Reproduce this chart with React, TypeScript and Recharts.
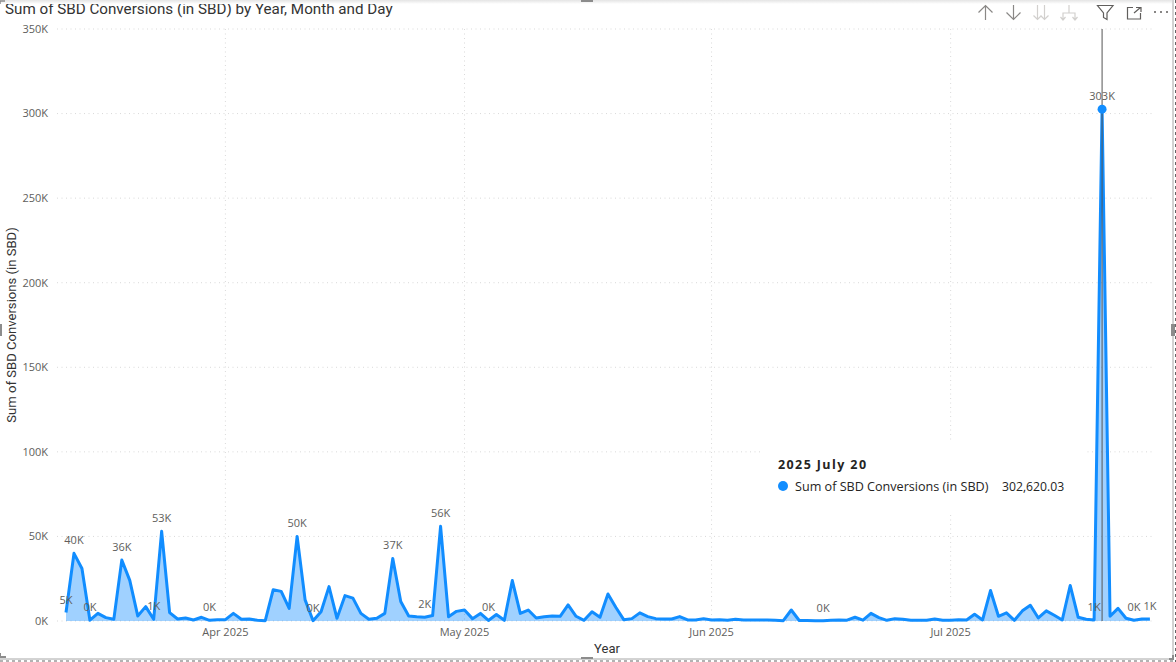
import React from "react";
import { ComposedChart, Area, XAxis, YAxis, CartesianGrid, ReferenceLine, ReferenceDot, LabelList } from "recharts";

const TITLE = "Sum of SBD Conversions (in SBD) by Year, Month and Day";
const Y_TITLE = "Sum of SBD Conversions (in SBD)";
const X_TITLE = "Year";

// SBD per day, in thousands, starting 2025 March 12
const marchValues = [5, 40, 31, 0.5, 4.5, 2, 1, 36, 24, 3, 8.5, 1, 53, 5, 1.2, 1.8, 0.6, 2.2, 0.4, 0.8];
const aprilValues = [0.8, 4.5, 1, 1.2, 0.4, 0.2, 18.5, 17.5, 7.5, 50, 12.5, 0.2, 5.5, 20.3, 1.6, 15, 13.5, 4.5, 1, 1.6, 4.5, 37, 11.5, 3, 2.5, 2.2, 3.2, 56, 2.5, 5.7];
const mayValues = [6.5, 1.4, 4.5, 0.3, 3.8, 0.4, 23.9, 4.5, 6.5, 1.8, 2.5, 3, 2.8, 9.5, 2.8, 0.4, 5.5, 2.2, 16, 8, 0.7, 1.4, 4.8, 2.6, 1.4, 1.2, 1.2, 2.6, 0.6, 0.6, 1.4];
const juneValues = [0.6, 0.8, 0.4, 1, 0.6, 0.6, 0.6, 0.6, 0.4, 0.2, 6.5, 0.3, 0.3, 0.2, 0.2, 0.4, 0.6, 0.5, 2.2, 0.5, 4.5, 2, 0.4, 1.4, 1, 0.4, 0.4, 0.4, 1.2, 0.4];
const julyValues = [0.4, 0.8, 0.6, 4, 0.6, 18, 2.8, 4.8, 0.4, 6, 9.3, 1.8, 6, 3.4, 0.6, 21, 2.2, 1, 0.6, 302.62, 2.8, 7.5, 1.6, 0.4, 1.2, 1.2];
const seriesValues = [...marchValues, ...aprilValues, ...mayValues, ...juneValues, ...julyValues];

const labelledDays = [0, 1, 3, 7, 11, 12, 18, 29, 31, 41, 45, 47, 53, 95, 129, 130, 134, 136];
const labelTexts = ["5K", "40K", "0K", "36K", "1K", "53K", "0K", "50K", "0K", "37K", "2K", "56K", "0K", "0K", "1K", "303K", "0K", "1K"];

const monthTickDays = [20, 50, 81, 111];
const monthTickLabels = ["Apr 2025", "May 2025", "Jun 2025", "Jul 2025"];
const yTicks = [0, 50, 100, 150, 200, 250, 300, 350];

const HOVER_DAY = 130;
const HOVER_TITLE = "2025 July 20";
const HOVER_VALUE = "302,620.03";

const BLUE = "#118DFF";
const FONT = "'Open Sans', sans-serif";
const HEAD_FONT = "Roboto, sans-serif";

const rows = seriesValues.map((v, i) => {
  const at = labelledDays.indexOf(i);
  return { day: i, value: v, label: at >= 0 ? labelTexts[at] : "" };
});

const PointLabel = (p: any) => {
  if (!p.value) return null;
  return (
    <text x={p.x} y={p.y - 9} textAnchor="middle" fontSize={11} fontFamily={FONT} fill="#605E5C">
      {p.value}
    </text>
  );
};

const Frame = () => (
  <svg width={1176} height={662} style={{ position: "absolute", left: 0, top: 0, pointerEvents: "none" }}>
    <defs>
      <linearGradient id="topShade" x1="0" y1="0" x2="0" y2="1">
        <stop offset="0" stopColor="#e4e4e4" />
        <stop offset="1" stopColor="#ffffff" />
      </linearGradient>
    </defs>
    <rect x={0} y={0} width={1172} height={4} fill="url(#topShade)" />
    <line x1={1173} y1={0} x2={1173} y2={659} stroke="#a6a6a6" strokeWidth={1} />
    <line x1={1175.5} y1={0} x2={1175.5} y2={662} stroke="#666" strokeWidth={1} strokeDasharray="3 3" />
    <line x1={0} y1={659} x2={1173} y2={659} stroke="#a6a6a6" strokeWidth={1} />
    <line x1={0} y1={661} x2={1176} y2={661} stroke="#666" strokeWidth={1} strokeDasharray="3 3" />
    <rect x={581} y={0} width={12} height={2} fill="#8c8c8c" />
    <rect x={581} y={657} width={12} height={2} fill="#8c8c8c" />
    <rect x={1171} y={324} width={4} height={12} fill="#8c8c8c" />
    <rect x={0} y={324} width={2} height={12} fill="#8c8c8c" />
    <path d="M1169 659h4v-4" fill="none" stroke="#8c8c8c" strokeWidth={2} />
    <path d="M0 653v4h6" fill="none" stroke="#8c8c8c" strokeWidth={2} />
    <path d="M0 4v-3h5" fill="none" stroke="#8c8c8c" strokeWidth={1.5} />

    <g fill="none" stroke="#8a8886" strokeWidth={1.2}>
      <path d="M985.5 20V5.5M978.5 12.5l7-7 7 7" />
      <path d="M1013.5 5v14.5M1006.5 12.5l7 7 7-7" />
    </g>
    <g fill="none" stroke="#d2d0ce" strokeWidth={1.2}>
      <path d="M1037.5 5v14.5M1033.5 15.5l4 4 4-4M1044.5 5v14.5M1040.5 15.5l4 4 4-4" />
      <path d="M1069 5v8M1063 20v-7h12v7M1060.5 17l2.5 3 2.5-3M1072.5 17l2.5 3 2.5-3" />
    </g>
    <g fill="none" stroke="#605E5C" strokeWidth={1.2}>
      <path d="M1097.5 5.5h15.5l-6 7.5v6.5l-3.5-2V13z" />
      <path d="M1133 7.5h-5.5v11.5h13v-6M1134 13l6.5-5.5M1136 7.5h5v4.5" />
    </g>
    <g fill="#605E5C">
      <circle cx={1155} cy={12} r={1} />
      <circle cx={1161} cy={12} r={1} />
      <circle cx={1167} cy={12} r={1} />
    </g>
  </svg>
);

export default function App() {
  return (
    <div style={{ position: "absolute", left: 0, top: 0, width: 1176, height: 662, background: "#fff", overflow: "hidden" }}>
      <ComposedChart
        width={1176}
        height={662}
        data={rows}
        margin={{ top: 29, right: 21, bottom: 0, left: 0 }}
      >
        <CartesianGrid
          stroke="#d9d9d9"
          strokeDasharray="1 3.5"
          verticalValues={monthTickDays}
          horizontalValues={yTicks.map((v) => v)}
        />
        <XAxis
          type="number"
          dataKey="day"
          domain={[-1.13, 136.64]}
          ticks={monthTickDays}
          tickFormatter={(d: number) => monthTickLabels[monthTickDays.indexOf(d)]}
          axisLine={false}
          tickLine={false}
          height={41}
          tickMargin={1}
          tick={{ fontSize: 11, fontFamily: FONT, fill: "#605E5C" }}
          allowDataOverflow
        />
        <YAxis
          type="number"
          domain={[0, 350]}
          ticks={yTicks}
          tickFormatter={(v: number) => `${v}K`}
          width={57}
          axisLine={false}
          tickLine={false}
          tickSize={0}
          tickMargin={9}
          tick={{ fontSize: 11, fontFamily: FONT, fill: "#605E5C" }}
        />
        <Area
          type="linear"
          dataKey="value"
          stroke={BLUE}
          strokeWidth={3}
          fill={BLUE}
          fillOpacity={0.4}
          strokeLinejoin="round"
          dot={false}
          activeDot={false}
          isAnimationActive={false}
        >
          <LabelList dataKey="label" content={PointLabel} />
        </Area>
        <ReferenceLine x={HOVER_DAY} stroke="#555555" strokeWidth={1} />
        <ReferenceDot x={HOVER_DAY} y={seriesValues[HOVER_DAY]} r={4.5} fill={BLUE} stroke={BLUE} strokeWidth={0} />
      </ComposedChart>

      <div style={{ position: "absolute", left: 5, top: 0, fontFamily: HEAD_FONT, fontSize: 15.2, lineHeight: "18px", color: "#333", whiteSpace: "nowrap" }}>
        {TITLE}
      </div>
      <svg width={1176} height={662} style={{ position: "absolute", left: 0, top: 0, pointerEvents: "none" }}>
        <text x={0} y={0} transform="translate(16 325) rotate(-90)" textAnchor="middle" fontFamily={HEAD_FONT} fontSize={13.1} fill="#333">
          {Y_TITLE}
        </text>
        <text x={607} y={653} textAnchor="middle" fontFamily={HEAD_FONT} fontSize={13} fill="#333">
          {X_TITLE}
        </text>
      </svg>

      <div style={{ position: "absolute", left: 760, top: 440, width: 325, height: 75, background: "#fff" }}>
        <div style={{ position: "absolute", left: 18, top: 17, fontFamily: FONT, fontWeight: 700, fontSize: 12.5, lineHeight: "16px", letterSpacing: 1.4, color: "#252423", whiteSpace: "nowrap" }}>
          {HOVER_TITLE}
        </div>
        <div style={{ position: "absolute", left: 18, top: 41, width: 10, height: 10, borderRadius: 5, background: BLUE }} />
        <div style={{ position: "absolute", left: 35, top: 39, fontFamily: FONT, fontSize: 12.6, lineHeight: "16px", color: "#252423", whiteSpace: "nowrap" }}>
          {Y_TITLE}
        </div>
        <div style={{ position: "absolute", left: 242, top: 39, fontFamily: FONT, fontSize: 12.2, lineHeight: "16px", color: "#252423", whiteSpace: "nowrap" }}>
          {HOVER_VALUE}
        </div>
      </div>
      <Frame />
    </div>
  );
}
